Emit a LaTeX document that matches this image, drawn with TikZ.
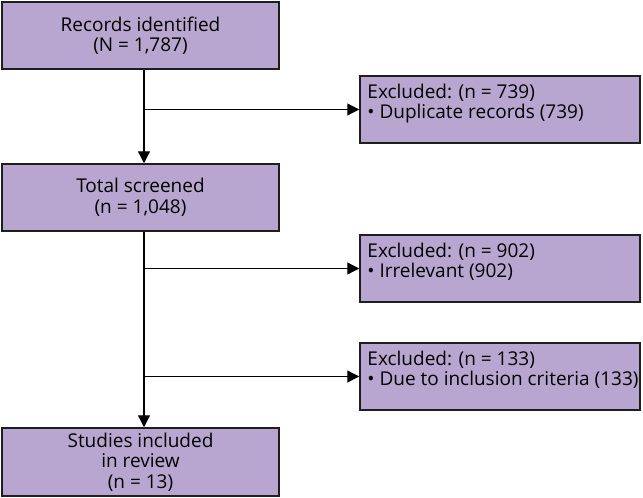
\documentclass[tikz,border=0pt]{standalone}
\usepackage{fontspec}
\setmainfont{Open Sans}
\usetikzlibrary{arrows.meta,calc}
\definecolor{boxfill}{RGB}{185,166,208}
\definecolor{boxline}{RGB}{30,30,30}
\tikzset{
  mainbox/.style={draw=boxline, fill=boxfill, line width=1.5pt, minimum width=277pt, minimum height=67pt, align=center, inner sep=0pt, font=\fontsize{19}{20.5}\selectfont},
  exbox/.style={draw=boxline, fill=boxfill, line width=1.5pt, minimum width=280pt, minimum height=67pt, inner sep=0pt},
  extext/.style={anchor=north west, align=left, inner sep=0pt, font=\fontsize{19}{20}\selectfont},
  conn/.style={line width=1.3pt, draw=black},
  arr/.style={conn, -{Triangle[length=12pt,width=12pt]}}
}
\begin{document}
\begin{tikzpicture}[x=1pt,y=-1pt]
\useasboundingbox (0,0) rectangle (643,498);
\node[mainbox] (b1) at (140.5,35.5) {Records identified\\(N = 1,787)};
\node[mainbox] (b2) at (140.5,197.5) {Total screened\\(n = 1,048)};
\node[mainbox, minimum height=68pt] (b3) at (140.5,462) {Studies included\\in review\\(n = 13)};
\node[exbox, label={[extext, xshift=8pt, yshift=-9pt]north west:Excluded: (n = 739)\\• Duplicate records (739)}] (e1) at (500,109.5) {};
\node[exbox, label={[extext, xshift=8pt, yshift=-9pt]north west:Excluded: (n = 902)\\• Irrelevant (902)}] (e2) at (500,268.5) {};
\node[exbox, label={[extext, xshift=8pt, yshift=-9pt]north west:Excluded: (n = 133)\\• Due to inclusion criteria (133)}] (e3) at (500,376.5) {};
\coordinate (sp) at (144,0);
\draw[arr] (sp |- b1.south) -- (sp |- b2.north);
\draw[arr] (sp |- b2.south) -- (sp |- b3.north);
\draw[arr] (sp |- e1.west) -- (e1.west);
\draw[arr] (sp |- e2.west) -- (e2.west);
\draw[arr] (sp |- e3.west) -- (e3.west);
\end{tikzpicture}
\end{document}
